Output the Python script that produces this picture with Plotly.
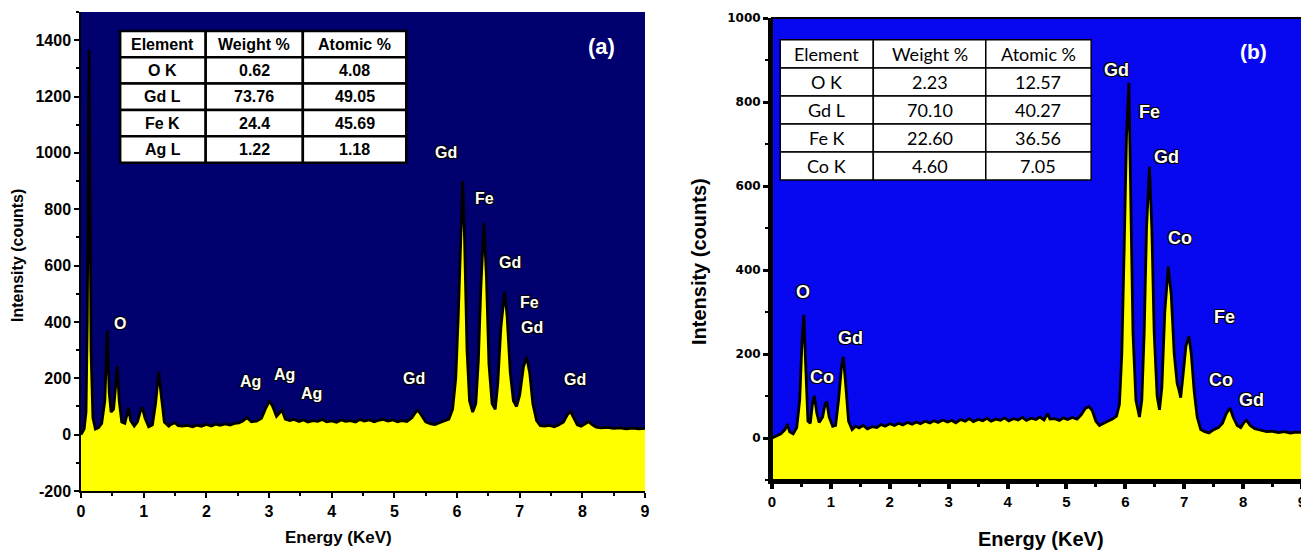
import plotly.graph_objects as go

# ---------------- data: panel (a) ----------------
energy_a = [0.00, 0.05, 0.08, 0.10, 0.12, 0.13, 0.14, 0.16, 0.19, 0.23, 0.28, 0.33, 0.38, 0.42, 0.45, 0.48,
            0.52, 0.56, 0.58, 0.61, 0.65, 0.70, 0.74, 0.76, 0.79, 0.85, 0.90, 0.95, 0.98, 1.02, 1.08, 1.14,
            1.19, 1.24, 1.28, 1.33, 1.40, 1.45, 1.50, 1.55, 1.62, 1.70, 1.78, 1.85, 1.92, 2.00, 2.08, 2.15,
            2.22, 2.30, 2.38, 2.45, 2.52, 2.58, 2.65, 2.72, 2.80, 2.88, 2.95, 3.01, 3.06, 3.12, 3.18, 3.21,
            3.26, 3.33, 3.40, 3.48, 3.55, 3.62, 3.70, 3.78, 3.85, 3.92, 4.00, 4.08, 4.15, 4.22, 4.30, 4.38,
            4.45, 4.52, 4.60, 4.68, 4.75, 4.82, 4.90, 4.98, 5.05, 5.12, 5.20, 5.28, 5.34, 5.38, 5.43, 5.50,
            5.58, 5.65, 5.72, 5.80, 5.87, 5.93, 5.98, 6.02, 6.06, 6.09, 6.12, 6.16, 6.20, 6.25, 6.30, 6.34,
            6.38, 6.43, 6.47, 6.51, 6.56, 6.61, 6.65, 6.70, 6.76, 6.80, 6.85, 6.90, 6.95, 7.00, 7.06, 7.11,
            7.16, 7.21, 7.27, 7.33, 7.40, 7.48, 7.55, 7.62, 7.70, 7.76, 7.81, 7.86, 7.92, 7.98, 8.05, 8.10,
            8.16, 8.22, 8.30, 8.40, 8.50, 8.60, 8.70, 8.80, 8.90, 9.00]
counts_a = [0, 20, 80, 400, 1100, 1366, 1000, 300, 60, 20, 25, 40, 120, 370, 150, 80,
            90, 200, 242, 120, 45, 40, 80, 96, 50, 30, 45, 85, 96, 60, 28, 35,
            110, 224, 140, 45, 30, 38, 42, 32, 30, 33, 28, 34, 30, 36, 31, 37,
            33, 38, 34, 40, 42, 48, 60, 46, 48, 58, 95, 120, 100, 65, 80, 86,
            55, 50, 54, 47, 52, 45, 50, 47, 54, 46, 49, 44, 52, 47, 50, 45,
            54, 48, 52, 46, 51, 54, 48, 52, 46, 50, 47, 60, 80, 86, 70, 45,
            38, 36, 42, 48, 55, 90, 200, 420, 750, 900, 700, 300, 120, 80, 110, 260,
            520, 750, 560, 250, 110, 90, 180, 380, 507, 420, 220, 120, 100, 140, 240, 276,
            220, 110, 50, 32, 30, 33, 28, 34, 45, 70, 83, 60, 35, 30, 40, 46,
            35, 27, 24, 26, 22, 24, 21, 23, 21, 22]

# ---------------- data: panel (b) ----------------
energy_b = [0.00, 0.08, 0.15, 0.22, 0.26, 0.30, 0.36, 0.42, 0.47, 0.51, 0.54, 0.57, 0.61, 0.65, 0.69, 0.72,
            0.76, 0.80, 0.86, 0.90, 0.93, 0.97, 1.03, 1.08, 1.13, 1.18, 1.21, 1.25, 1.30, 1.36, 1.42, 1.48,
            1.55, 1.62, 1.70, 1.78, 1.85, 1.92, 2.00, 2.08, 2.15, 2.22, 2.30, 2.38, 2.45, 2.52, 2.60, 2.68,
            2.75, 2.82, 2.90, 2.98, 3.05, 3.12, 3.20, 3.28, 3.35, 3.42, 3.50, 3.58, 3.65, 3.72, 3.80, 3.88,
            3.95, 4.02, 4.10, 4.18, 4.25, 4.32, 4.40, 4.48, 4.55, 4.62, 4.68, 4.72, 4.80, 4.88, 4.95, 5.02,
            5.10, 5.18, 5.25, 5.32, 5.38, 5.44, 5.50, 5.56, 5.62, 5.70, 5.78, 5.85, 5.90, 5.94, 5.98, 6.02,
            6.06, 6.09, 6.13, 6.18, 6.24, 6.28, 6.32, 6.36, 6.41, 6.45, 6.49, 6.54, 6.58, 6.62, 6.67, 6.73,
            6.78, 6.83, 6.88, 6.91, 6.94, 6.98, 7.03, 7.08, 7.12, 7.17, 7.22, 7.28, 7.35, 7.42, 7.50, 7.58,
            7.65, 7.72, 7.78, 7.83, 7.90, 7.96, 8.02, 8.06, 8.12, 8.20, 8.30, 8.40, 8.50, 8.60, 8.70, 8.80,
            8.90, 9.00]
counts_b = [0, 5, 10, 20, 33, 15, 10, 25, 90, 230, 293, 180, 40, 35, 85, 100,
            60, 37, 50, 80, 87, 50, 28, 30, 90, 170, 193, 130, 40, 20, 28, 24,
            30, 22, 27, 25, 32, 28, 34, 30, 35, 31, 37, 33, 38, 34, 40, 36,
            41, 37, 43, 38, 42, 36, 44, 40, 46, 39, 44, 41, 47, 40, 45, 42,
            48, 41, 46, 43, 49, 42, 47, 44, 50, 43, 58, 45, 46, 42, 48, 44,
            49, 45, 55, 70, 75, 65, 40, 30, 35, 40, 45, 52, 80, 200, 450, 720,
            846, 600, 250, 90, 50, 90, 250, 500, 646, 500, 250, 100, 67, 120, 300, 408,
            340, 200, 130, 115, 96, 150, 220, 242, 200, 110, 50, 20, 15, 12, 20, 25,
            35, 60, 71, 50, 30, 25, 38, 42, 30, 22, 18, 15, 16, 13, 15, 12,
            14, 13]

# tick labels
x_ticks = [0, 1, 2, 3, 4, 5, 6, 7, 8, 9]
y_ticks_a = [-200, 0, 200, 400, 600, 800, 1000, 1200, 1400]
y_ticks_b = [0, 200, 400, 600, 800, 1000]

# peak labels
labels_a = ["O", "Ag", "Ag", "Ag", "Gd", "Gd", "Fe", "Gd", "Fe", "Gd", "Gd"]
label_x_a = [0.62, 2.71, 3.24, 3.68, 5.32, 5.83, 6.44, 6.84, 7.16, 7.19, 7.88]
label_y_a = [394, 188, 213, 145, 199, 1000, 837, 610, 468, 379, 195]

labels_b = ["O", "Co", "Gd", "Gd", "Fe", "Gd", "Co", "Fe", "Co", "Gd"]
label_x_b = [0.53, 0.85, 1.33, 5.85, 6.41, 6.70, 6.92, 7.69, 7.62, 8.15]
label_y_b = [348, 145, 238, 876, 776, 669, 476, 288, 138, 90]

# tables
table_header = ["Element", "Weight %", "Atomic %"]
table_a_elements = ["O K", "Gd L", "Fe K", "Ag L"]
table_a_weight = ["0.62", "73.76", "24.4", "1.22"]
table_a_atomic = ["4.08", "49.05", "45.69", "1.18"]
table_b_elements = ["O K", "Gd L", "Fe K", "Co K"]
table_b_weight = ["2.23", "70.10", "22.60", "4.60"]
table_b_atomic = ["12.57", "40.27", "36.56", "7.05"]

# ---------------- layout constants ----------------
# the page body adds an 8px offset; the figure is sized to fill the window
OFF = 8
W, H = 1309 - OFF, 551 - OFF
YR_A = [-200, 1500]
YR_B = [-100, 1000]
XR = [0, 9]

def px_x(p):
    return (p - OFF) / W

def px_y(p):
    return 1 - (p - OFF) / H

BG_A = "#00006e"
BG_B = "#0808f0"
YELLOW = "#ffff00"
ARIAL = "Liberation Sans, Arial, sans-serif"

fig = go.Figure()

def add_spectrum(x, y, floor, xa, ya):
    fig.add_trace(go.Scatter(x=[x[0], x[-1]], y=[floor, floor], mode="lines",
                             line=dict(width=0, color=YELLOW), xaxis=xa, yaxis=ya,
                             showlegend=False, hoverinfo="skip"))
    fig.add_trace(go.Scatter(x=x, y=y, mode="lines", fill="tonexty", fillcolor=YELLOW,
                             line=dict(color="black", width=2.8), xaxis=xa, yaxis=ya,
                             showlegend=False))

add_spectrum(energy_a, counts_a, YR_A[0], "x", "y")
add_spectrum(energy_b, counts_b, YR_B[0], "x2", "y2")

shadow = "-1px -1px 0 #000, 1px -1px 0 #000, -1px 1px 0 #000, 1px 1px 0 #000"

annotations = []
for t, xv, yv in zip(labels_a, label_x_a, label_y_a):
    annotations.append(dict(x=xv, y=yv, xref="x", yref="y", text=t, showarrow=False,
                            xanchor="center", yanchor="middle",
                            font=dict(family=ARIAL, size=16, color="white",
                                      weight="bold", shadow=shadow)))
for t, xv, yv in zip(labels_b, label_x_b, label_y_b):
    annotations.append(dict(x=xv, y=yv, xref="x2", yref="y2", text=t, showarrow=False,
                            xanchor="center", yanchor="middle",
                            font=dict(family=ARIAL, size=18, color="white",
                                      weight="bold", shadow=shadow)))

annotations.append(dict(x=8.3, y=1379, xref="x", yref="y", text="(a)", showarrow=False,
                        xanchor="center", yanchor="middle",
                        font=dict(family=ARIAL, size=22, color="white", weight="bold")))
annotations.append(dict(x=8.18, y=921, xref="x2", yref="y2", text="(b)", showarrow=False,
                        xanchor="center", yanchor="middle",
                        font=dict(family=ARIAL, size=21, color="white", weight="bold")))

# axis titles
annotations.append(dict(x=px_x(338), y=px_y(537), xref="paper", yref="paper", text="Energy (KeV)",
                        xanchor="center", yanchor="middle", showarrow=False,
                        font=dict(family=ARIAL, size=17, color="black", weight="bold")))
annotations.append(dict(x=px_x(18), y=px_y(256), xref="paper", yref="paper", text="Intensity (counts)",
                        xanchor="center", yanchor="middle", textangle=-90, showarrow=False,
                        font=dict(family=ARIAL, size=16, color="black", weight="bold")))
annotations.append(dict(x=px_x(1041), y=px_y(539), xref="paper", yref="paper", text="Energy (KeV)",
                        xanchor="center", yanchor="middle", showarrow=False,
                        font=dict(family=ARIAL, size=20, color="black", weight="bold")))
annotations.append(dict(x=px_x(699), y=px_y(262), xref="paper", yref="paper", text="Intensity (counts)",
                        xanchor="center", yanchor="middle", textangle=-90, showarrow=False,
                        font=dict(family=ARIAL, size=20, color="black", weight="bold")))

shapes = []

def add_table(xref, yref, col_edges, y_top, y_bot, elements, weights, atomics, font, border_w):
    n_rows = len(elements) + 1
    row_h = (y_top - y_bot) / n_rows
    rows = [table_header] + [list(r) for r in zip(elements, weights, atomics)]
    for r in range(n_rows):
        y1 = y_top - r * row_h
        y0 = y1 - row_h
        for c in range(3):
            shapes.append(dict(type="rect", xref=xref, yref=yref, x0=col_edges[c], x1=col_edges[c + 1],
                               y0=y0, y1=y1, fillcolor="white",
                               line=dict(color="black", width=border_w), layer="above"))
            annotations.append(dict(x=(col_edges[c] + col_edges[c + 1]) / 2, y=(y0 + y1) / 2,
                                    xref=xref, yref=yref, text=rows[r][c], showarrow=False,
                                    xanchor="center", yanchor="middle", font=font))

add_table("x", "y", [0.625, 1.99, 3.54, 5.19], 1433, 965,
          table_a_elements, table_a_weight, table_a_atomic,
          dict(family=ARIAL, size=16, color="black", weight="bold"), 2.5)
add_table("x2", "y2", [0.14, 1.72, 3.63, 5.42], 948, 614,
          table_b_elements, table_b_weight, table_b_atomic,
          dict(family="Lato, Noto Sans", size=18, color="black"), 1.5)

# frame for panel (b)
shapes.append(dict(type="rect", xref="x2 domain", yref="y2 domain", x0=0, x1=1, y0=0, y1=1,
                   line=dict(color="black", width=2), layer="above"))

tick_font_ax = dict(family=ARIAL, size=16, color="black", weight="bold")
tick_font_ay = dict(family=ARIAL, size=16, color="black", weight="bold")
tick_font_bx = dict(family=ARIAL, size=15, color="black", weight="bold")
tick_font_by = dict(family="DejaVu Sans", size=12, color="black", weight="bold")

common = dict(showgrid=False, zeroline=False, showline=True, linecolor="black",
              ticks="outside", tickcolor="black", automargin=False, ticklabeloverflow="allow")

fig.update_layout(
    width=W, height=H,
    margin=dict(l=0, r=0, t=0, b=0, pad=0, autoexpand=False),
    paper_bgcolor="white",
    showlegend=False,
    xaxis=dict(domain=[px_x(81), px_x(645)], range=XR, anchor="y",
               tickvals=x_ticks, ticktext=[str(v) for v in x_ticks],
               linewidth=1.5, ticklen=5, tickwidth=2, tickfont=tick_font_ax,
               minor=dict(dtick=0.5, ticks="outside", ticklen=3, tickwidth=1.5, tickcolor="black"),
               **common),
    yaxis=dict(domain=[px_y(491), px_y(12)], range=YR_A, anchor="x",
               tickvals=y_ticks_a, ticktext=[str(v) for v in y_ticks_a],
               linewidth=1.5, ticklen=5, tickwidth=2, tickfont=tick_font_ay,
               minor=dict(dtick=100, ticks="outside", ticklen=3, tickwidth=1.5, tickcolor="black"),
               **common),
    xaxis2=dict(domain=[px_x(772), px_x(1302)], range=XR, anchor="y2",
                tickvals=x_ticks, ticktext=[str(v) for v in x_ticks],
                linewidth=4, ticklen=5, tickwidth=4, tickfont=tick_font_bx,
                minor=dict(dtick=0.5, ticks="outside", ticklen=3, tickwidth=3, tickcolor="black"),
                **common),
    yaxis2=dict(domain=[px_y(480), px_y(18)], range=YR_B, anchor="x2",
                tickvals=y_ticks_b, ticktext=[str(v) for v in y_ticks_b],
                linewidth=4, ticklen=5, tickwidth=3, tickfont=tick_font_by,
                minor=dict(dtick=100, ticks="outside", ticklen=3, tickwidth=2, tickcolor="black"),
                **common),
    annotations=annotations,
    shapes=shapes,
)

# plot backgrounds per panel
fig.add_shape(type="rect", xref="x domain", yref="y domain", x0=0, x1=1, y0=0, y1=1,
              fillcolor=BG_A, line=dict(width=0), layer="below")
fig.add_shape(type="rect", xref="x2 domain", yref="y2 domain", x0=0, x1=1, y0=0, y1=1,
              fillcolor=BG_B, line=dict(width=0), layer="below")
fig.update_layout(plot_bgcolor="rgba(0,0,0,0)")

fig.write_html("out.html")
